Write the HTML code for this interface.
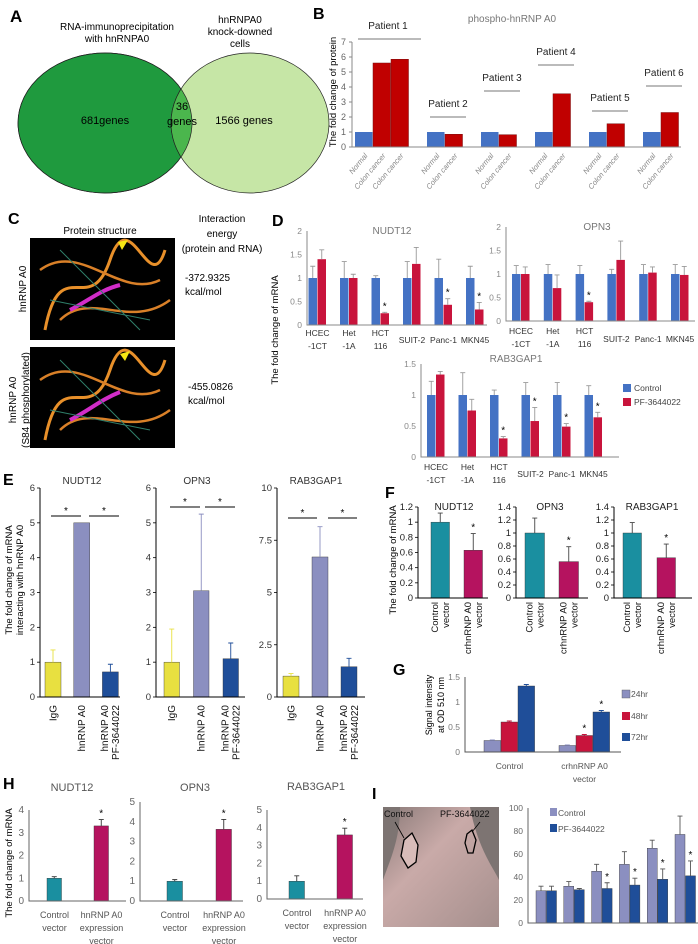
<!DOCTYPE html>
<html><head><meta charset="utf-8"><style>
html,body{margin:0;padding:0;background:#fff;}
svg{display:block;font-family:"Liberation Sans",sans-serif;}
</style></head><body>
<svg id="fig" width="698" height="944" viewBox="0 0 698 944" xmlns="http://www.w3.org/2000/svg">
<defs>
<linearGradient id="skin" x1="0" y1="0" x2="1" y2="1"><stop offset="0" stop-color="#8a7a78"/><stop offset="0.4" stop-color="#c9aaa8"/><stop offset="1" stop-color="#a58f8d"/></linearGradient>
</defs>
<g>
<text x="10" y="22" font-size="17" font-weight="bold">A</text>
<text x="117" y="30" font-size="10" text-anchor="middle">RNA-immunoprecipitation</text>
<text x="117" y="42" font-size="10" text-anchor="middle">with hnRNPA0</text>
<text x="240" y="23" font-size="10" text-anchor="middle">hnRNPA0</text>
<text x="240" y="35" font-size="10" text-anchor="middle">knock-downed</text>
<text x="240" y="47" font-size="10" text-anchor="middle">cells</text>
<ellipse cx="105" cy="123" rx="87" ry="70" fill="#1f9a3e" stroke="#222" stroke-width="0.7"/>
<ellipse cx="250" cy="123" rx="79" ry="70" fill="#c6e6a6" stroke="#222" stroke-width="0.7"/>
<clipPath id="lc"><ellipse cx="105" cy="123" rx="87" ry="70"/></clipPath>
<ellipse cx="250" cy="123" rx="79" ry="70" fill="#4bb64d" clip-path="url(#lc)" stroke="#222" stroke-width="0.7"/>
<ellipse cx="105" cy="123" rx="87" ry="70" fill="none" stroke="#222" stroke-width="0.7"/>
<text x="105" y="124" font-size="11" text-anchor="middle">681genes</text>
<text x="182" y="110" font-size="11" text-anchor="middle">36</text>
<text x="182" y="125" font-size="11" text-anchor="middle">genes</text>
<text x="244" y="124" font-size="11" text-anchor="middle">1566 genes</text>
</g>
<g>
<text x="8" y="224" font-size="16" font-weight="bold">C</text>
<text x="100" y="234" font-size="10" text-anchor="middle">Protein structure</text>
<text x="222" y="222" font-size="10" text-anchor="middle">Interaction</text>
<text x="222" y="237" font-size="10" text-anchor="middle">energy</text>
<text x="222" y="252" font-size="10" text-anchor="middle">(protein and RNA)</text>
<g>
<rect x="30" y="238" width="145" height="102" fill="#000"/>
<path d="M45 330 C60 250 90 320 110 260 S150 300 165 250" stroke="#e8902a" stroke-width="3" fill="none"/>
<path d="M40 270 C80 240 120 300 160 280 M60 320 C90 290 130 330 170 300" stroke="#d98028" stroke-width="2.5" fill="none"/>
<path d="M70 310 C90 300 100 290 120 285" stroke="#d22cc8" stroke-width="4" fill="none"/>
<path d="M50 300 L150 320 M60 250 L140 330" stroke="#2f7f6a" stroke-width="1" fill="none"/>
<polygon points="118,242 128,240 122,250" fill="#f5e614"/>
</g>
<g>
<rect x="30" y="347" width="145" height="101" fill="#000"/>
<path d="M45 440 C60 360 90 430 110 370 S150 410 165 360" stroke="#e8902a" stroke-width="3" fill="none"/>
<path d="M40 380 C80 350 120 410 160 390 M60 430 C90 400 130 440 170 410" stroke="#d98028" stroke-width="2.5" fill="none"/>
<path d="M70 420 C90 410 100 400 120 392" stroke="#d22cc8" stroke-width="4" fill="none"/>
<path d="M50 410 L150 430 M60 360 L140 440" stroke="#2f7f6a" stroke-width="1" fill="none"/>
<polygon points="120,354 130,351 125,361" fill="#f5e614"/>
</g>
<text transform="translate(26,289) rotate(-90)" font-size="10" text-anchor="middle">hnRNP A0</text>
<text transform="translate(16,400) rotate(-90)" font-size="10" text-anchor="middle">hnRNP A0</text>
<text transform="translate(29,400) rotate(-90)" font-size="10" text-anchor="middle">(S84 phosphorylated)</text>
<text x="185" y="281" font-size="10">-372.9325</text>
<text x="185" y="295" font-size="10">kcal/mol</text>
<text x="188" y="390" font-size="10">-455.0826</text>
<text x="188" y="404" font-size="10">kcal/mol</text>
</g>
<text x="313" y="19" font-size="16" font-weight="bold">B</text>
<text x="272" y="226" font-size="16" font-weight="bold">D</text>
<text x="3" y="485" font-size="16" font-weight="bold">E</text>
<text x="385" y="498" font-size="16" font-weight="bold">F</text>
<text x="393" y="675" font-size="16" font-weight="bold">G</text>
<text x="3" y="789" font-size="16" font-weight="bold">H</text>
<text x="372" y="799" font-size="16" font-weight="bold">I</text>
<text x="512" y="22" font-size="10" fill="#777" text-anchor="middle">phospho-hnRNP A0</text>
<text transform="translate(336,92) rotate(-90)" font-size="9.5" text-anchor="middle">The fold change of protein</text>
<text transform="translate(278,330) rotate(-90)" font-size="9.5" text-anchor="middle">The fold change of mRNA</text>
<text transform="translate(12,580) rotate(-90)" font-size="9.5" text-anchor="middle">The fold change of mRNA</text>
<text transform="translate(23,580) rotate(-90)" font-size="9.5" text-anchor="middle">interacting with hnRNP A0</text>
<text transform="translate(396,560) rotate(-90)" font-size="9.5" text-anchor="middle">The fold change of mRNA</text>
<text transform="translate(432,705) rotate(-90)" font-size="9" text-anchor="middle">Signal intensity</text>
<text transform="translate(444,705) rotate(-90)" font-size="9" text-anchor="middle">at OD 510 nm</text>
<text transform="translate(12,863) rotate(-90)" font-size="9.5" text-anchor="middle">The fold change of mRNA</text>
<rect x="623" y="384" width="8" height="8" fill="#4472c4"/>
<text x="634" y="391" font-size="8.5" fill="#444">Control</text>
<rect x="623" y="398" width="8" height="8" fill="#c8143c"/>
<text x="634" y="405" font-size="8.5" fill="#444">PF-3644022</text>
<rect x="622" y="690" width="8" height="8" fill="#8b8fc0" stroke="#555" stroke-width="0.4"/>
<text x="631" y="697" font-size="8.5" fill="#555">24hr</text>
<rect x="622" y="712" width="8" height="8" fill="#c8143c"/>
<text x="631" y="719" font-size="8.5" fill="#555">48hr</text>
<rect x="622" y="733" width="8" height="8" fill="#1f4e99"/>
<text x="631" y="740" font-size="8.5" fill="#555">72hr</text>
<rect x="550" y="808" width="7" height="8" fill="#8b8fc0"/>
<text x="558" y="816" font-size="8.5" fill="#555">Control</text>
<rect x="550" y="824" width="7" height="8" fill="#1f4e99"/>
<text x="558" y="832" font-size="8.5" fill="#555">PF-3644022</text>
<g>
<rect x="383" y="807" width="116" height="120" fill="#7d7472"/>
<path d="M400 807 L470 807 C478 850 495 870 499 880 L499 927 L383 927 L383 880 C390 860 400 840 400 807 Z" fill="url(#skin)"/>
<path d="M404 840 L412 833 L418 845 L416 862 L408 868 L401 856 Z" fill="#d8bcb9" stroke="#000" stroke-width="1.3"/>
<path d="M467 834 L472 830 L476 840 L473 853 L468 853 L465 843 Z" fill="none" stroke="#000" stroke-width="1.3"/>
<line x1="395" y1="822" x2="404" y2="838" stroke="#000" stroke-width="0.8"/>
<line x1="480" y1="822" x2="472" y2="832" stroke="#000" stroke-width="0.8"/>
<text x="384" y="817" font-size="9" fill="#111">Control</text>
<text x="440" y="817" font-size="9" fill="#111">PF-3644022</text>
</g>
</svg>
<script>
const bCats = ["Normal","Colon cancer","Colon cancer","Normal","Colon cancer","Normal","Colon cancer","Normal","Colon cancer","Normal","Colon cancer","Normal","Colon cancer"];
const bVals = [1,5.6,5.85,1,0.85,1,0.82,1,3.55,1,1.55,1,2.3];
const bGroupSizes = [3,2,2,2,2,2];
const bPatients = ["Patient 1","Patient 2","Patient 3","Patient 4","Patient 5","Patient 6"];
const bTicks = [0,1,2,3,4,5,6,7];
const dCats = [["HCEC","-1CT"],["Het","-1A"],["HCT","116"],["SUIT-2"],["Panc-1"],["MKN45"]];
const dNudtCtrl = [1,1,1,1,1,1];
const dNudtCtrlErr = [0.25,0.35,0.05,0.35,0.4,0.25];
const dNudtPF = [1.4,1.0,0.25,1.3,0.43,0.33];
const dNudtPFErr = [0.2,0.08,0.02,0.35,0.13,0.15];
const dNudtStars = [false,false,true,false,true,true];
const dOpnCtrl = [1,1,1,1,1,1];
const dOpnCtrlErr = [0.18,0.2,0.18,0.1,0.2,0.2];
const dOpnPF = [1.0,0.7,0.4,1.3,1.03,0.98];
const dOpnPFErr = [0.15,0.28,0.02,0.4,0.12,0.18];
const dOpnStars = [false,false,true,false,false,false];
const dRabCtrl = [1,1,1,1,1,1];
const dRabCtrlErr = [0.22,0.36,0.08,0.2,0.2,0.15];
const dRabPF = [1.33,0.75,0.3,0.58,0.49,0.64];
const dRabPFErr = [0.05,0.18,0.03,0.22,0.05,0.08];
const dRabStars = [false,false,true,true,true,true];
const dTicks2 = [0,0.5,1,1.5,2];
const dTicks15 = [0,0.5,1,1.5];
const eCats = [["IgG"],["hnRNP A0"],["hnRNP A0","PF-3644022"]];
const eNudt = [1,5,0.72];
const eNudtErr = [0.35,0,0.22];
const eOpn = [1,3.05,1.1];
const eOpnErr = [0.95,2.2,0.45];
const eRab = [1,6.7,1.45];
const eRabErr = [0.12,1.45,0.4];
const eTicks6 = [0,1,2,3,4,5,6];
const eTicks10 = [0,2.5,5,7.5,10];
const fCats = [["Control","vector"],["crhnRNP A0","vector"]];
const fNudt = [1,0.63];
const fNudtErr = [0.12,0.22];
const fOpn = [1,0.56];
const fOpnErr = [0.23,0.23];
const fRab = [1,0.62];
const fRabErr = [0.16,0.21];
const fTicks12 = [0,0.2,0.4,0.6,0.8,1,1.2];
const fTicks14 = [0,0.2,0.4,0.6,0.8,1,1.2,1.4];
const gCats = [["Control"],["crhnRNP A0","vector"]];
const g24 = [0.23,0.13];
const g48 = [0.6,0.33];
const g72 = [1.32,0.8];
const g24Err = [0.01,0.01];
const g48Err = [0.02,0.02];
const g72Err = [0.03,0.03];
const gTicks = [0,0.5,1,1.5];
const hCats = [["Control","vector"],["hnRNP A0","expression","vector"]];
const hNudt = [1,3.3];
const hNudtErr = [0.07,0.28];
const hOpn = [1,3.62];
const hOpnErr = [0.08,0.5];
const hRab = [1,3.6];
const hRabErr = [0.3,0.38];
const hTicks4 = [0,1,2,3,4];
const hTicks5 = [0,1,2,3,4,5];
const iCats = [["D1"],["D2"],["D4"],["D6"],["D8"],["D10"]];
const iCtrl = [28,32,45,51,65,77];
const iCtrlErr = [4,4,6,11,7,16];
const iPF = [28,29,30,33,38,41];
const iPFErr = [4,1,5,6,9,13];
const iStars = [false,false,true,true,true,true];
const iTicks = [0,20,40,60,80,100];

const NS = 'http://www.w3.org/2000/svg';
const svg = document.getElementById('fig');
function mk(tag, parent){ const e = document.createElementNS(NS, tag); (parent||svg).appendChild(e); return e; }

function chart(c){
  const g = mk('g');
  
  
  const yS = v => c.y0 - v/c.vmax*(c.y0 - c.yTop);
  c.ticks.forEach(t => {
    const tx = mk('text', g);
    
    
    tx.setAttribute('x', c.x0 - 5); tx.setAttribute('y', yS(t) + 3);
    tx.setAttribute('font-size', c.tickSize || 9); tx.setAttribute('text-anchor', 'end');
    tx.setAttribute('fill', c.tickColor || '#555');
    tx.textContent = String(t);
    if (c.tickMarks) {
      const tm = mk('line', g);
      tm.setAttribute('x1', c.x0 - 3); tm.setAttribute('x2', c.x0); tm.setAttribute('y1', yS(t)); tm.setAttribute('y2', yS(t));
      tm.setAttribute('stroke', c.axisColor || '#000'); tm.setAttribute('stroke-width', 0.8);
    }
  });
  const nS = c.series.length;
  c.cats.forEach((cat, gi) => {
    c.series.forEach((s, si) => {
      const v = s.vals[gi];
      const x = c.gStart + gi*c.pitch + si*c.barW;
      const col = s.colors ? s.colors[gi] : s.color;
      const r = mk('rect', g);
      
      
      r.setAttribute('x', x); r.setAttribute('y', yS(v)); r.setAttribute('width', c.barW - (c.gap||0.6)); r.setAttribute('height', Math.max(0, c.y0 - yS(v)));
      r.setAttribute('fill', col); r.setAttribute('stroke', c.barStroke || '#333'); r.setAttribute('stroke-width', 0.4);
      const cx = x + (c.barW - (c.gap||0.6))/2;
      if (s.errs && s.errs[gi] > 0) {
        const top = yS(v + s.errs[gi]);
        const e = mk('path', g);
        
        
        e.setAttribute('d', `M${cx} ${yS(v)} V${top} M${cx-2.5} ${top} H${cx+2.5}`);
        e.setAttribute('stroke', c.errColor || col); e.setAttribute('stroke-width', 0.9); e.setAttribute('fill', 'none');
      }
      if (s.stars && s.stars[gi]) {
        const st = mk('text', g);
        
        
        st.setAttribute('x', cx); st.setAttribute('y', yS(v + (s.errs ? s.errs[gi] : 0)) - 3);
        st.setAttribute('font-size', 10); st.setAttribute('text-anchor', 'middle');
        st.textContent = '*';
      }
    });
    const labCx = c.gStart + gi*c.pitch + nS*c.barW/2 + (c.labOff||0);
    cat.forEach((line, li) => {
      const t = mk('text', g);
      
      
      t.setAttribute('font-size', c.labSize || 9); t.setAttribute('fill', c.labColor || '#333');
      if (c.labRot) {
        const lx = labCx + 3 + (li - (cat.length-1)/2)*11;
        t.setAttribute('transform', `translate(${lx},${c.labY}) rotate(-90)`);
        t.setAttribute('text-anchor', 'end');
      } else {
        const ly = (cat.length === 1 && c.singleY) ? c.singleY : c.labY + li*c.labLH;
        t.setAttribute('x', labCx); t.setAttribute('y', ly); t.setAttribute('text-anchor', 'middle');
      }
      t.textContent = line;
    });
  });
  const ax = mk('path', g);
  
  
  ax.setAttribute('d', `M${c.x0} ${c.yTop} V${c.y0} H${c.x1}`);
  ax.setAttribute('stroke', c.axisColor || '#000'); ax.setAttribute('stroke-width', 1); ax.setAttribute('fill', 'none');
  if (c.title) {
    const tt = mk('text', g);
    
    
    tt.setAttribute('x', c.title[1]); tt.setAttribute('y', c.title[2]); tt.setAttribute('font-size', c.titleSize || 10);
    tt.setAttribute('text-anchor', 'middle'); tt.setAttribute('fill', c.titleColor || '#333');
    tt.textContent = c.title[0];
  }
  if (c.sig) {
    c.sig.forEach(sg => {
      const l = mk('line', g);
      
      
      l.setAttribute('x1', sg[0]); l.setAttribute('x2', sg[1]); l.setAttribute('y1', sg[2]); l.setAttribute('y2', sg[2]);
      l.setAttribute('stroke', '#000'); l.setAttribute('stroke-width', 1);
      const st = mk('text', g);
      
      
      st.setAttribute('x', (sg[0]+sg[1])/2); st.setAttribute('y', sg[2] - 2); st.setAttribute('font-size', 10); st.setAttribute('text-anchor', 'middle');
      st.textContent = '*';
    });
  }
  return g;
}

(function(){
  const g = mk('g');
  
  
  const x0 = 352, y0 = 147, yTop = 42, vmax = 7, slotW = 18, start = 355;
  const yS = v => y0 - v/vmax*(y0-yTop);
  bTicks.forEach(t => {
    const tx = mk('text', g);
    
    
    tx.setAttribute('x', x0-6); tx.setAttribute('y', yS(t)+3); tx.setAttribute('font-size', 9); tx.setAttribute('text-anchor', 'end'); tx.setAttribute('fill', '#666');
    tx.textContent = t;
    const tm = mk('line', g);
    tm.setAttribute('x1', x0-3); tm.setAttribute('x2', x0); tm.setAttribute('y1', yS(t)); tm.setAttribute('y2', yS(t)); tm.setAttribute('stroke', '#888');
  });
  let slot = 0, k = 0;
  const labelY = [39,117,91,65,111,86];
  bGroupSizes.forEach((n, gi) => {
    const gx = start + slot*slotW;
    for (let j=0; j<n; j++, k++) {
      const x = start + (slot+j)*slotW;
      const r = mk('rect', g);
      
      
      r.setAttribute('x', x); r.setAttribute('y', yS(bVals[k])); r.setAttribute('width', slotW-0.5); r.setAttribute('height', y0 - yS(bVals[k]));
      r.setAttribute('fill', bCats[k] === 'Normal' ? '#4472c4' : '#c00000'); r.setAttribute('stroke', '#7a1010'); r.setAttribute('stroke-width', bCats[k]==='Normal'?0:0.5);
      const t = mk('text', g);
      
      
      t.setAttribute('transform', `translate(${x+slotW/2+4},${y0+9}) rotate(-50)`);
      t.setAttribute('text-anchor', 'end'); t.setAttribute('font-size', 7.5); t.setAttribute('font-style', 'italic'); t.setAttribute('fill', '#888');
      t.textContent = bCats[k];
    }
    const gw = n*slotW;
    const ln = mk('line', g);
    
    
    ln.setAttribute('x1', gx+3); ln.setAttribute('x2', gx+gw+(n===3?12:3)); ln.setAttribute('y1', labelY[gi]); ln.setAttribute('y2', labelY[gi]); ln.setAttribute('stroke', '#777'); ln.setAttribute('stroke-width', 1);
    const pt = mk('text', g);
    
    
    pt.setAttribute('x', gx + gw/2 + (n===3?6:3)); pt.setAttribute('y', labelY[gi]-10); pt.setAttribute('font-size', 10); pt.setAttribute('text-anchor', 'middle'); pt.setAttribute('fill', '#222');
    pt.textContent = bPatients[gi];
    slot += n + 1;
  });
  const ax = mk('path', g);
  
  
  ax.setAttribute('d', `M${x0} ${yTop} V${y0} H681`); ax.setAttribute('stroke', '#888'); ax.setAttribute('fill', 'none');
})();

const dStyle = {tickColor:'#888', tickSize:8.5, axisColor:'#888', labSize:8.5, labColor:'#333', titleColor:'#777', barStroke:'none', errColor:'#999', gap:0.5, labLH:13};
chart(Object.assign({}, dStyle, {name:'chart-d-nudt12', x0:307, x1:487, y0:325, yTop:231, vmax:2, ticks:dTicks2, cats:dCats, gStart:308.5, pitch:31.5, barW:9, labY:336, singleY:343, title:['NUDT12',392,234],
  series:[{vals:dNudtCtrl, errs:dNudtCtrlErr, color:'#4472c4'},{vals:dNudtPF, errs:dNudtPFErr, color:'#c8143c', stars:dNudtStars}]}));
chart(Object.assign({}, dStyle, {name:'chart-d-opn3', x0:506, x1:695, y0:321, yTop:227, vmax:2, ticks:dTicks2, cats:dCats, gStart:512, pitch:31.8, barW:9, labY:334, singleY:342, title:['OPN3',597,230],
  series:[{vals:dOpnCtrl, errs:dOpnCtrlErr, color:'#4472c4'},{vals:dOpnPF, errs:dOpnPFErr, color:'#c8143c', stars:dOpnStars}]}));
chart(Object.assign({}, dStyle, {name:'chart-d-rab3gap1', x0:421, x1:619, y0:457, yTop:364, vmax:1.5, ticks:dTicks15, cats:dCats, gStart:427, pitch:31.5, barW:9, labY:470, singleY:477, title:['RAB3GAP1',516,362],
  series:[{vals:dRabCtrl, errs:dRabCtrlErr, color:'#4472c4'},{vals:dRabPF, errs:dRabPFErr, color:'#c8143c', stars:dRabStars}]}));

const eCols = ['#e8e040','#8b8fc0','#1f4e99'];
const eStyle = {tickSize:9.5, tickColor:'#333', labRot:true, labY:705, labSize:10, labColor:'#111', titleColor:'#333', gap:0.5, tickMarks:true};
chart(Object.assign({}, eStyle, {name:'chart-e-nudt12', x0:40, x1:120, y0:697, yTop:488, vmax:6, ticks:eTicks6, cats:eCats, gStart:45, pitch:28.7, barW:16.5, title:['NUDT12',82,484],
  series:[{vals:eNudt, errs:eNudtErr, colors:eCols}], sig:[[51,81,516],[89,119,516]]}));
chart(Object.assign({}, eStyle, {name:'chart-e-opn3', x0:156, x1:245, y0:697, yTop:488, vmax:6, ticks:eTicks6, cats:eCats, gStart:164, pitch:29.5, barW:16, title:['OPN3',197,484],
  series:[{vals:eOpn, errs:eOpnErr, colors:eCols}], sig:[[170,200,507],[205,235,507]]}));
chart(Object.assign({}, eStyle, {name:'chart-e-rab3gap1', x0:277, x1:365, y0:697, yTop:488, vmax:10, ticks:eTicks10, cats:eCats, gStart:283, pitch:29, barW:16.5, title:['RAB3GAP1',316,484],
  series:[{vals:eRab, errs:eRabErr, colors:eCols}], sig:[[288,317,518],[328,357,518]]}));

const fCols = ['#1a8fa0','#b5135f'];
const fStyle = {tickSize:9.5, tickColor:'#222', labRot:true, labY:602, labSize:9.5, labColor:'#111', titleColor:'#222', gap:0.5, errColor:'#444', tickMarks:true};
chart(Object.assign({}, fStyle, {name:'chart-f-nudt12', x0:418, x1:488, y0:598, yTop:507, vmax:1.2, ticks:fTicks12, cats:fCats, gStart:431, pitch:33, barW:19, title:['NUDT12',454,510],
  series:[{vals:fNudt, errs:fNudtErr, colors:fCols, stars:[false,true]}]}));
chart(Object.assign({}, fStyle, {name:'chart-f-opn3', x0:516, x1:588, y0:598, yTop:507, vmax:1.4, ticks:fTicks14, cats:fCats, gStart:525, pitch:34, barW:20, title:['OPN3',550,510],
  series:[{vals:fOpn, errs:fOpnErr, colors:fCols, stars:[false,true]}]}));
chart(Object.assign({}, fStyle, {name:'chart-f-rab3gap1', x0:614, x1:692, y0:598, yTop:507, vmax:1.4, ticks:fTicks14, cats:fCats, gStart:623, pitch:34, barW:19, title:['RAB3GAP1',652,510],
  series:[{vals:fRab, errs:fRabErr, colors:fCols, stars:[false,true]}]}));

chart({name:'chart-g', x0:465, x1:621, y0:752, yTop:677, vmax:1.5, ticks:gTicks, tickSize:8.5, tickColor:'#777', axisColor:'#555', cats:gCats, gStart:484, pitch:75, barW:17, labY:769, labLH:13, labSize:8.5, labColor:'#555', gap:0.4,
  series:[{vals:g24, errs:g24Err, color:'#8b8fc0'},{vals:g48, errs:g48Err, color:'#c8143c', stars:[false,true]},{vals:g72, errs:g72Err, color:'#1f4e99', stars:[false,true]}]});

const hCols = ['#1a8fa0','#b5135f'];
const hStyle = {tickSize:10, tickColor:'#666', axisColor:'#666', labY:918, labLH:13, labSize:9, labColor:'#555', titleColor:'#555', titleSize:11, gap:0.5, errColor:'#333'};
chart(Object.assign({}, hStyle, {name:'chart-h-nudt12', x0:29, x1:126, y0:901, yTop:810, vmax:4, ticks:hTicks4, cats:hCats, gStart:47, pitch:47, barW:15, title:['NUDT12',72,791],
  series:[{vals:hNudt, errs:hNudtErr, colors:hCols, stars:[false,true]}]}));
chart(Object.assign({}, hStyle, {name:'chart-h-opn3', x0:140, x1:243, y0:901, yTop:802, vmax:5, ticks:hTicks5, cats:hCats, gStart:167, pitch:49, barW:16, title:['OPN3',195,791],
  series:[{vals:hOpn, errs:hOpnErr, colors:hCols, stars:[false,true]}]}));
chart(Object.assign({}, hStyle, {name:'chart-h-rab3gap1', x0:267, x1:363, y0:899, yTop:810, vmax:5, ticks:hTicks5, cats:hCats, gStart:289, pitch:48, barW:16, labY:916, title:['RAB3GAP1',316,790],
  series:[{vals:hRab, errs:hRabErr, colors:hCols, stars:[false,true]}]}));

chart({name:'chart-i', x0:528, x1:698, y0:923, yTop:808, vmax:100, ticks:iTicks, tickSize:8.5, tickColor:'#666', axisColor:'#666', cats:iCats, gStart:536, pitch:27.8, barW:10.5, labY:941, labSize:8.5, labColor:'#555', gap:0.5, errColor:'#555',
  series:[{vals:iCtrl, errs:iCtrlErr, color:'#8b8fc0'},{vals:iPF, errs:iPFErr, color:'#1f4e99', stars:iStars}]});
</script>
</body></html>
